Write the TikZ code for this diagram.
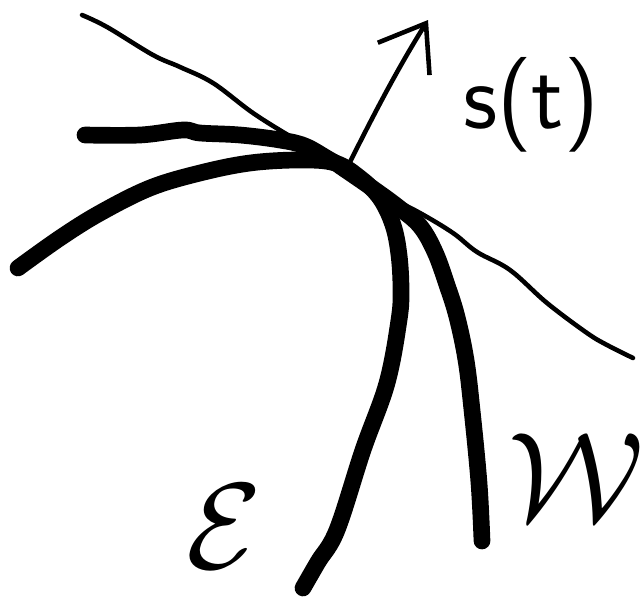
\documentclass[tikz,border=0pt]{standalone}
\usepackage{amsfonts, amsmath, amssymb}
\usetikzlibrary{arrows.meta}
\tikzset{
  thinline/.style={line width=2.6pt, line cap=round, line join=round},
  thickline/.style={line width=9.5pt, line cap=round, line join=round},
  bigtext/.style={inner sep=0pt, outer sep=0pt}
}
\begin{document}
\begin{tikzpicture}[x=0.02cm,y=-0.02cm]
\useasboundingbox (0,0) rectangle (640,599);
%plot the curves
%thin line
\draw[thinline] plot[smooth, tension=0.6] coordinates {(82,15) (107,27) (153,55) (180,67) (213,83) (253,113) (293,138) (340,165) (380,192) (420,213) (453,233) (477,252) (510,270) (547,303) (587,333) (607,345) (633,358)};
%upper thick branch
\draw[thickline] plot[smooth, tension=0.6] coordinates {(85,135) (140,135) (183,130) (200,133) (240,135) (280,140) (305,146) (330,160) (352,172)};
%lower thick branch, goes on to E
\draw[thickline] plot[smooth, tension=0.6] coordinates {(18,268) (60,238) (100,213) (150,188) (200,173) (250,163) (300,160) (335,163) (360,178) (380,198) (393,225) (399,255) (401,290) (399,320) (387,383) (363,450) (337,530) (318,562) (303,588)};
%branch to W
\draw[thickline] plot[smooth, tension=0.6] coordinates {(340,166) (372,188) (398,207) (420,226) (435,252) (447,285) (457,317) (466,360) (472,410) (479,483) (482,541)};
%arrow
\coordinate (foot) at (350,162);
\coordinate (tip) at (428,20);
\draw[thinline, -{Straight Barb[length=0.84cm, width=1.22cm]}] (foot) .. controls (375,112) and (398,68) .. (tip);

%put labels
\node[bigtext, anchor=base west] (st) at (463,128) {\fontsize{54}{60}\selectfont\textsf{s(t)}};
\node[bigtext, anchor=base west, scale=2.8] (E) at (186,568) {\Huge$\mathcal{E}$};
\node[bigtext, anchor=base west, scale=2.9] (W) at (508,520) {\Huge$\mathcal{W}$};
\end{tikzpicture}
\end{document}
